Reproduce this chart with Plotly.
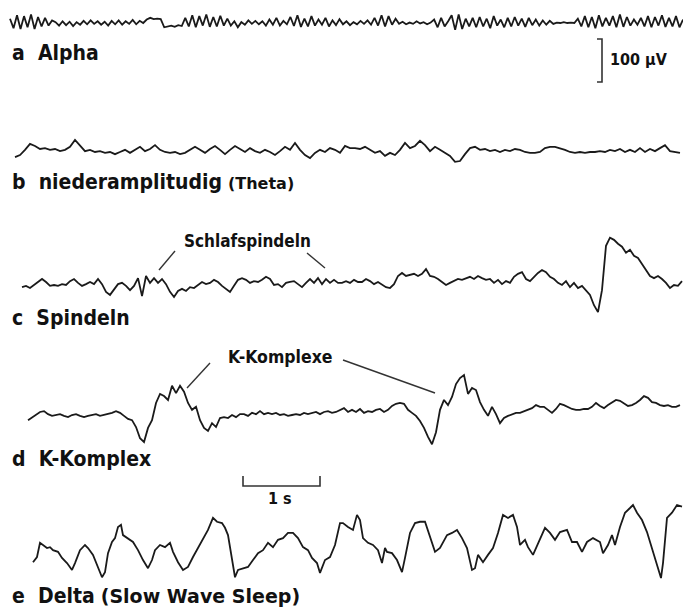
import numpy as np
import plotly.graph_objects as go

# ---------------- canvas / scale ----------------
W, H = 683, 610
PX_PER_S = 77.0          # 1 s scale bar length in pixels
PX_PER_UV = 0.43         # 100 uV scale bar = 43 px
SCALE_S = 1.0
SCALE_UV = 100.0

# ---------------- data (uV) ----------------
# a: Alpha (uniform samples)
alpha_uv = [10, -12, 18, -14, 16, -10, 20, -14, 14, -8, 12, -6, 6,
            2, -6, 4, -5, 3, -7, 2, -4, 5, -3, 6, -2, 4, -4, 3, -6, 5, -3, 6, -4, 4, -2, 7, -3, 5, 0,
            8, 12, 9, 10, 9,
            -10, -8, -6, -9, -5, -7,
            12, -8, 18, -10, 16, -6, 20, -9, 14, -8, 17, -6, 10,
            -6, 4, -10, 2, -4, 6, -2, 5, -3, 4,
            -6, 8, -4, 12, -6, 5, -3, 14, -7, 18, -9, 10, -8, 16, -6, 8, -4, 12, -8, 6, -5, 9,
            -3, 4, -5, 2, -3, 5, -2, 6, -4,
            12, -6, 18, -8, 16, -4, 10,
            -2, 3, -3, 1, -2, 4, -1, 2, -3, 1,
            8, -10, 12, -8, 4,
            18, -16, 20, -14, 10,
            -8, 12, -10, 14, -8, 10, -12, 16, -6, 8, -10, 12, -8, 14, -6, 10, -9, 12, -5, 8, -6, 6, -4, 5, -2,
            1, 0, 2, 0, 1, 0,
            10, -8, 16, -10, 14, -12, 18, -8, 12, -6, 16, -10, 20, -9, 14, -6, 8, -4, 12, -8, 16, -10, 14, -6,
            18, -9, 12, -8, 16, -10, 8]
alpha_t = (0.13, 8.87)

# b: niederamplitudig (Theta)
theta_uv = [-12, -7, 5, 19, 14, 7, 9, 5, 7, 2,
            5, 12, 28, 14, 2, 5, 0, 2, -2, 0,
            -5, 0, 5, -2, 5, 12, 2, 7, 16, 5,
            0, -2, 0, -5, -2, 5, 12, 5, -2, 7,
            14, 5, -5, 5, 14, 7, 0, 9, 2, -2,
            5, 0, -7, 2, 12, 5, 21, 5, -7, -14,
            -2, 5, 0, 9, 5, -2, 14, 9, 9, 7,
            12, 5, -2, 2, -9, -2, -7, 5, 21, 9,
            14, 26, 16, 2, 12, 5, -2, -9, -23, -21,
            -5, 9, 12, 5, 7, 2, 5, 0, 5, 2,
            7, 5, 0, -2, -2, 0, 9, 12, 12, 9,
            5, 0, -2, 0, -2, 0, 0, 2, 0, 5,
            2, 7, 0, 5, 0, 9, 0, 7, 2, 9,
            16, 2, 0, -2]
theta_t = (0.195, 8.831)

# c: Spindeln
spindle_uv = [-5, -2, -7, 0, 9, 14, 7, -2, 0, -2,
              2, 0, 9, 14, 5, -2, 2, 7, 2, 14,
              2, -16, -23, -9, 2, 5, -2, -12, -2, 16,
              -26, 21, 5, 16, 5, 14, 2, -16, -28, -14,
              -9, -14, -5, -7, 0, 7, 2, 5, 12, 7,
              -2, -9, -16, -2, 12, 16, 12, 5, 9, 7,
              12, 19, 14, 0, 2, -5, 5, 7, 9, 2,
              -5, 5, 14, 5, 16, 2, 14, 5, 12, 5,
              5, 9, 5, 12, 7, 7, 14, 9, 2, 7,
              0, -5, -7, 2, 21, 28, 21, 23, 26, 21,
              26, 37, 21, 19, 14, 7, 0, 5, 9, 14,
              12, 16, 19, 14, 21, 16, 12, 14, 5, 12,
              2, 9, 5, 19, 26, 30, 14, 9, 19, 28,
              35, 30, 19, 14, 5, 0, 9, -5, 5, -7,
              -2, -12, -23, -47, -63, -12, 91, 110, 105, 96,
              89, 75, 82, 68, 63, 49, 35, 21, 16, 21,
              14, 5, -7, 0, -2, 9]
spindle_t = (0.286, 8.857)

# d: K-Komplex
kcomplex_uv = [-12, -5, 2, 7, 9, 2, -2, 0, 2, -2,
               -5, 0, 2, -2, -5, -2, 0, 2, -2, 0,
               2, 5, 9, 5, -2, -9, -12, -28, -54, -63,
               -30, -12, 28, 49, 44, 35, 68, 51, 68, 54,
               28, 12, 19, -12, -30, -37, -19, -28, -7, -5,
               -7, 0, -5, 2, 2, -2, 5, 2, 9, 2,
               5, 2, 5, 0, 2, -2, 0, 2, 0, 5,
               2, 5, 7, 2, 7, 9, 5, 7, 12, 16,
               7, 12, 7, 14, 5, 9, 7, 12, 14, 7,
               12, 21, 26, 28, 26, 12, 5, -2, -14, -30,
               -51, -68, -40, 12, 35, 23, 42, 72, 86, 93,
               49, 63, 58, 30, 12, -2, 19, 2, -19, -7,
               -2, 2, 5, 5, 9, 12, 16, 23, 19, 19,
               12, 5, 14, 26, 23, 19, 14, 12, 12, 14,
               14, 19, 28, 21, 16, 23, 30, 35, 33, 26,
               21, 23, 28, 35, 44, 40, 30, 28, 23, 21,
               23, 19, 19, 23]
kcomplex_t = (0.364, 8.831)

# e: Delta (Slow Wave Sleep) -- irregular samples at 77 Hz sample index
delta_idx = [33, 37, 40, 43, 47, 50, 53, 58, 62, 67,
             72, 75, 80, 85, 88, 93, 98, 102, 105, 108,
             112, 115, 118, 121, 123, 128, 133, 138, 143, 148,
             152, 155, 160, 165, 170, 173, 178, 183, 188, 193,
             198, 203, 208, 213, 217, 222, 225, 228, 232, 235,
             238, 243, 248, 253, 258, 263, 268, 273, 278, 283,
             288, 293, 298, 303, 308, 312, 317, 320, 325, 330,
             335, 340, 343, 348, 353, 357, 360, 363, 368, 373,
             378, 382, 385, 387, 392, 397, 402, 405, 410, 415,
             420, 425, 430, 435, 440, 447, 452, 457, 462, 467,
             472, 475, 478, 483, 488, 493, 498, 503, 508, 513,
             517, 520, 525, 528, 533, 540, 545, 550, 555, 560,
             567, 572, 577, 582, 587, 593, 600, 603, 608, 612,
             615, 620, 625, 630, 633, 637, 642, 647, 653, 658,
             661, 663, 667, 672, 677, 682]
delta_uv = [-33, -21, 12, 7, 0, 2, -5, -9, -23, -35,
            -51, -35, -5, 7, 0, -16, -47, -68, -56, -12,
            14, 23, 49, 54, 30, 23, 14, -5, -28, -47,
            -28, -5, 7, 2, 12, -9, -33, -51, -44, -21,
            0, 19, 42, 70, 61, 58, 47, 30, -28, -68,
            -51, -47, -44, -28, -12, -5, 12, 2, 19, 23,
            35, 35, 23, 2, -5, -23, -35, -58, -28, -21,
            7, 58, 58, 49, 42, 77, 65, 23, 12, 7,
            -5, -35, 0, -9, -12, -28, -56, -23, 35, 58,
            61, 61, 26, -9, 0, 30, 35, 42, 23, 0,
            -51, -47, -16, -33, -16, 0, 35, 77, 70, 77,
            49, 7, 19, 2, -16, 23, 47, 35, 19, 37,
            42, 14, 14, -9, 14, 23, 14, -12, 7, 30,
            7, 49, 82, 93, 100, 82, 65, 37, -9, -44,
            -70, -35, 70, 82, 100, 96]
DELTA_FS = 77.0

# labels
trace_letters = ["a", "b", "c", "d", "e"]
trace_names = ["Alpha", "niederamplitudig", "Spindeln", "K-Komplex", "Delta"]
trace_suffix = ["", "(Theta)", "", "", "(Slow Wave Sleep)"]
annot_spindle = "Schlafspindeln"
annot_kcomplex = "K-Komplexe"
scale_t_label = "1 s"
scale_uv_label = "100 µV"

# ---------------- layout constants (pixels) ----------------
BASE_PX = [23, 152, 285, 415, 548]
LABEL_Y = [53, 182, 318, 459, 596]
SUFFIX_SIZE = [16, 16, 16, 16, 19]

def tx(px):
    return px / PX_PER_S

def uy(py):
    return -py / PX_PER_UV

LINE = dict(color="#1a1a1a", width=1.8)
fig = go.Figure()

series = [
    (np.linspace(*alpha_t, len(alpha_uv)), alpha_uv),
    (np.linspace(*theta_t, len(theta_uv)), theta_uv),
    (np.linspace(*spindle_t, len(spindle_uv)), spindle_uv),
    (np.linspace(*kcomplex_t, len(kcomplex_uv)), kcomplex_uv),
    (np.array(delta_idx) / DELTA_FS, delta_uv),
]
for (t, v), base in zip(series, BASE_PX):
    fig.add_trace(go.Scatter(x=t, y=np.array(v) + uy(base), mode="lines",
                             line=LINE, hoverinfo="skip"))

# scale bars
t0 = tx(243)
yb = uy(486)
tick_uv = 10 / PX_PER_UV
fig.add_trace(go.Scatter(x=[t0, t0, t0 + SCALE_S, t0 + SCALE_S],
                         y=[yb + tick_uv, yb, yb, yb + tick_uv],
                         mode="lines", line=dict(color="#333", width=1.6), hoverinfo="skip"))
xv = tx(602)
ytop = uy(39)
tick_s = 5 / PX_PER_S
fig.add_trace(go.Scatter(x=[xv - tick_s, xv, xv, xv - tick_s],
                         y=[ytop, ytop, ytop - SCALE_UV, ytop - SCALE_UV],
                         mode="lines", line=dict(color="#333", width=1.6), hoverinfo="skip"))

# pointer lines
pointers = [((175, 251), (159, 270)), ((307, 253), (325, 268)),
            ((210, 363), (187, 388)), ((343, 360), (435, 393))]
for (x0, y0), (x1, y1) in pointers:
    fig.add_shape(type="line", x0=tx(x0), y0=uy(y0), x1=tx(x1), y1=uy(y1),
                  xref="x", yref="y", line=dict(color="#333", width=1.4))

LABEL_FONT = "Liberation Sans Narrow, DejaVu Sans Condensed, Arial Narrow, sans-serif"
NB = "\u00a0"
annotations = []
for letter, name, suf, ypx, ssz in zip(trace_letters, trace_names, trace_suffix, LABEL_Y, SUFFIX_SIZE):
    txt = f"<b>{letter}{NB}{NB}{name}</b>"
    if suf:
        txt += (f"{NB}<span style='font-family:DejaVu Sans;font-size:{ssz}px'>"
                f"<b>{suf}</b></span>")
    annotations.append(dict(x=tx(10), y=uy(ypx), xref="x", yref="y", text=txt,
                            showarrow=False, xanchor="left", yanchor="middle",
                            font=dict(family=LABEL_FONT, size=21, color="#111")))

annotations += [
    dict(x=tx(182), y=uy(241), text=f"<b>{annot_spindle}</b>", xanchor="left", size=17),
    dict(x=tx(226), y=uy(357), text=f"<b>{annot_kcomplex}</b>", xanchor="left", size=17.5),
]
for a in annotations[-2:]:
    sz = a.pop("size")
    a.update(xref="x", yref="y", showarrow=False, yanchor="middle",
             font=dict(family=LABEL_FONT, size=sz, color="#111"))

annotations.append(dict(x=tx(608), y=uy(59), xref="x", yref="y",
                        text=f"<b>{scale_uv_label}</b>", showarrow=False,
                        xanchor="left", yanchor="middle",
                        font=dict(family=LABEL_FONT, size=16, color="#111")))
annotations.append(dict(x=tx(280), y=uy(498), xref="x", yref="y",
                        text=f"<b>{scale_t_label}</b>", showarrow=False,
                        xanchor="center", yanchor="middle",
                        font=dict(family=LABEL_FONT, size=16, color="#111")))

fig.update_layout(
    width=W, height=H, autosize=False,
    margin=dict(l=0, r=0, t=0, b=0, pad=0),
    paper_bgcolor="white", plot_bgcolor="white",
    showlegend=False,
    xaxis=dict(range=[0, W / PX_PER_S], visible=False, fixedrange=True),
    yaxis=dict(range=[-H / PX_PER_UV, 0], visible=False, fixedrange=True),
    annotations=annotations,
)

fig.write_html("out.html", config={"displayModeBar": False},
               post_script="document.body.style.margin='0px';document.body.style.padding='0px';"
                           "document.body.style.overflow='hidden';")
